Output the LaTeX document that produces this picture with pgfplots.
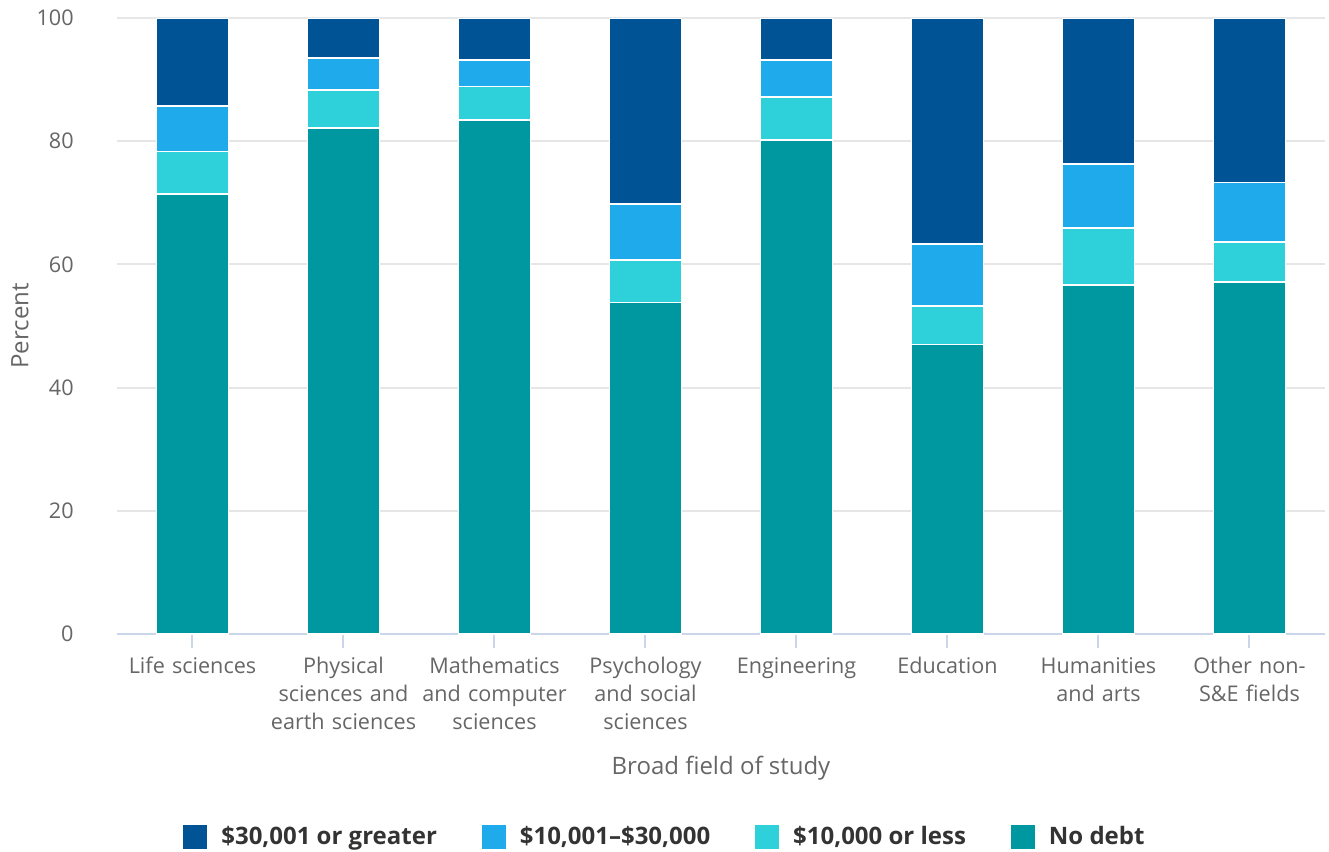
\documentclass[border=0pt]{standalone}
\usepackage{pgfplots}
\pgfplotsset{compat=1.18}
\usepackage{fontspec}
\setmainfont{Open Sans}
\definecolor{cDark}{HTML}{005496}
\definecolor{cBlue}{HTML}{1FABEB}
\definecolor{cCyan}{HTML}{2ED0DA}
\definecolor{cTeal}{HTML}{0098A0}
\definecolor{cText}{HTML}{666666}
\definecolor{cLeg}{HTML}{333333}
\definecolor{cGrid}{HTML}{E6E6E6}
\definecolor{cBase}{HTML}{CCD6EB}
\begin{document}
\begin{tikzpicture}
\begin{axis}[
  at={(0,0)}, anchor=south west,
  scale only axis, width=604pt, height=308pt,
  ybar stacked, bar width=36pt,
  xmin=-0.5, xmax=7.5, ymin=0, ymax=100,
  enlargelimits=false,
  xtick={0,...,7},
  xticklabels={Life sciences,{Physical\\sciences and\\earth sciences},{Mathematics\\and computer\\sciences},{Psychology\\and social\\sciences},Engineering,Education,{Humanities\\and arts},{Other non-\\S\&E fields}},
  ytick={0,20,40,60,80,100},
  axis x line*=bottom, axis y line*=left,
  x axis line style={draw=cBase, line width=1pt, -},
  y axis line style={draw=none},
  xtick style={draw=cBase, line width=1pt},
  ytick style={draw=none},
  tick align=outside,
  major tick length=7pt,
  ymajorgrids, grid style={draw=cGrid, line width=1pt},
  xticklabel style={font=\fontsize{10.8}{14}\selectfont, text=cText, text width=90pt, align=center, inner sep=0pt, yshift=-4.5pt},
  yticklabel style={font=\fontsize{10.8}{14}\selectfont, text=cText, inner sep=0pt, xshift=-14.5pt},
  /pgf/number format/assume math mode=true,
  legend columns=4,
  reverse legend,
  legend image code/.code={\fill[#1,draw=none] (0pt,-6pt) rectangle (12pt,6pt);},
  legend style={at={(axis description cs:0.0546,-0.329)}, anchor=west, draw=none, fill=none, inner sep=0pt,
    font=\bfseries\fontsize{12}{14}\selectfont, text=cLeg,
    nodes={inner sep=0pt},
    /tikz/every odd column/.style={column sep=7pt},
    /tikz/every even column/.style={column sep=22.5pt}},
  legend cell align=left,
]
\addplot[fill=cTeal, draw=white, line width=0.8pt] coordinates {(0,71.4) (1,82.1) (2,83.4) (3,53.8) (4,80.2) (5,47.0) (6,56.7) (7,57.1)};
\addplot[fill=cCyan, draw=white, line width=0.8pt] coordinates {(0,6.9) (1,6.2) (2,5.5) (3,6.9) (4,7.0) (5,6.2) (6,9.2) (7,6.5)};
\addplot[fill=cBlue, draw=white, line width=0.8pt] coordinates {(0,7.4) (1,5.2) (2,4.3) (3,9.1) (4,6.0) (5,10.1) (6,10.4) (7,9.7)};
\addplot[fill=cDark, draw=white, line width=0.8pt] coordinates {(0,14.3) (1,6.5) (2,6.8) (3,30.2) (4,6.8) (5,36.7) (6,23.7) (7,26.7)};
\legend{No debt,{\$10,000 or less},{\$10,001–\$30,000},{\$30,001 or greater}}
\end{axis}
\node[rotate=90, text=cText, font=\fontsize{12}{14}\selectfont] at (-48.5pt,154pt) {Percent};
\node[text=cText, font=\fontsize{12}{14}\selectfont] at (302pt,-67pt) {Broad field of study};
\pgfresetboundingbox
\path[use as bounding box] (-58.5pt,-109pt) rectangle (606pt,317pt);
\end{tikzpicture}
\end{document}
